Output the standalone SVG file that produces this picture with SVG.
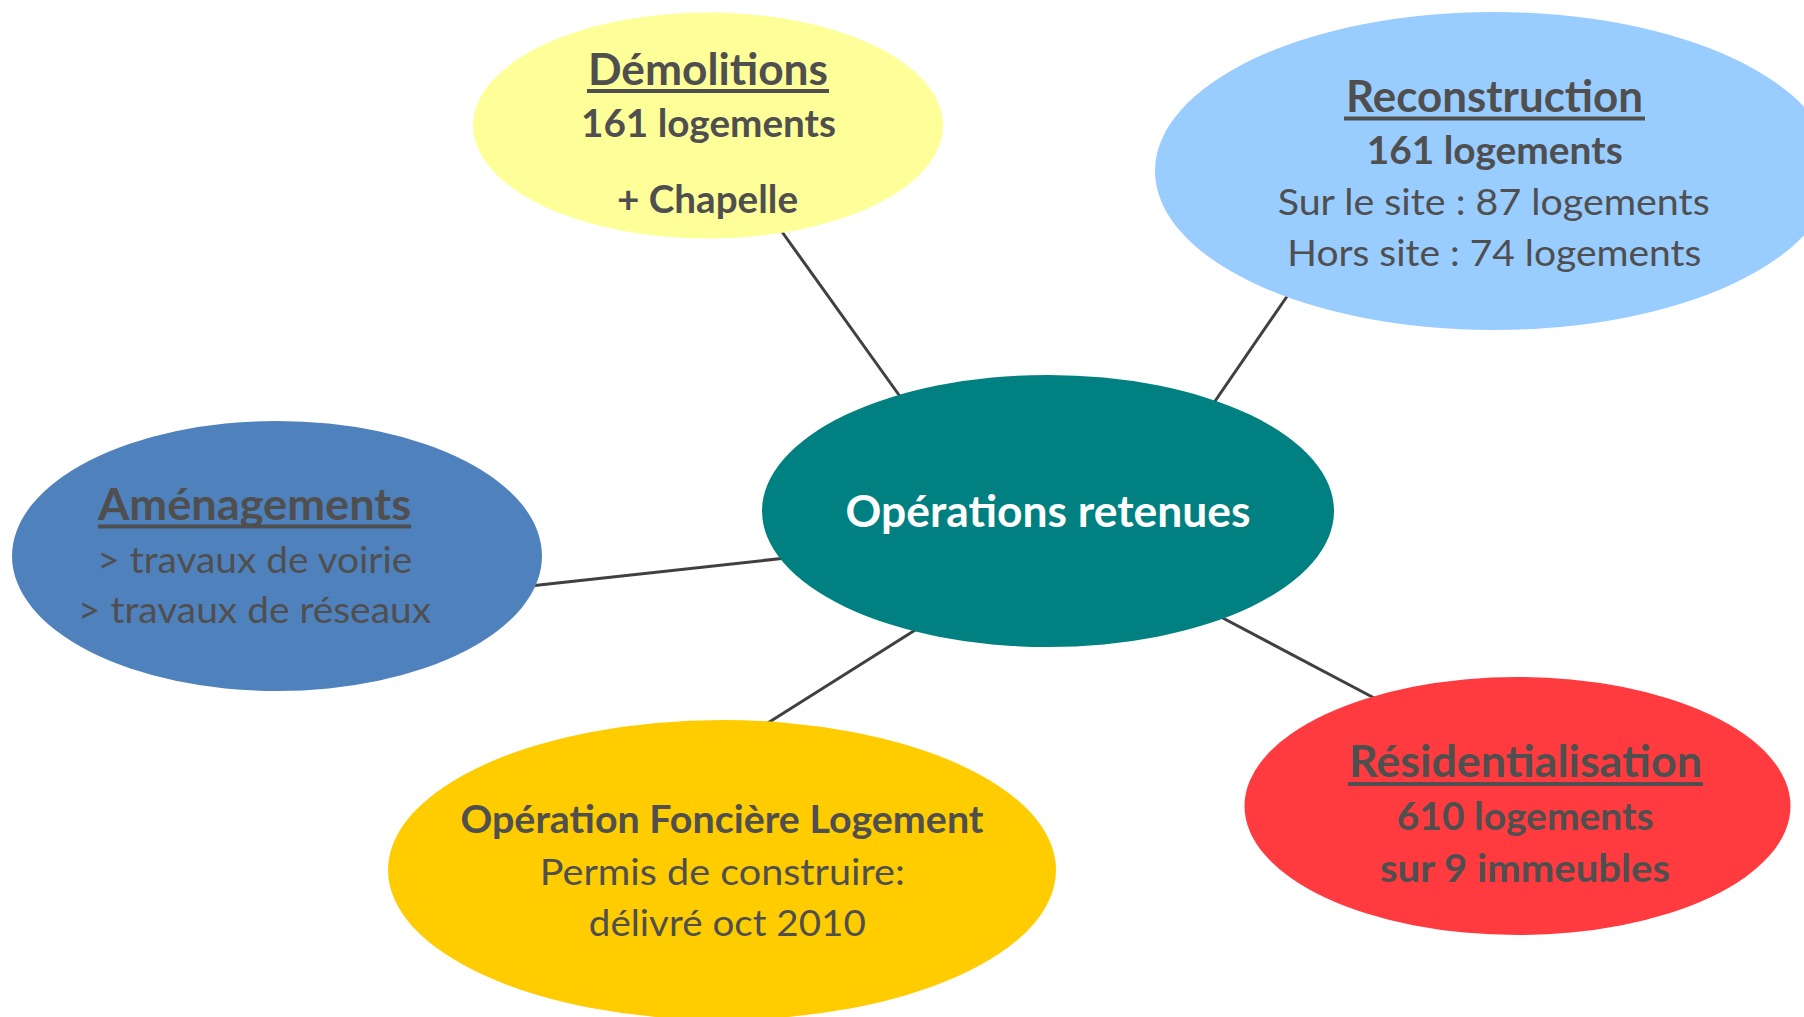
<svg xmlns="http://www.w3.org/2000/svg" width="1804" height="1017" viewBox="0 0 1804 1017">
<style>
.t{font-family:Lato,"Open Sans","Liberation Sans",sans-serif;fill:#4F4F4F;text-anchor:middle}
.h{font-size:43px;font-weight:700}
.b{font-size:37.5px;font-weight:700}
.r{font-size:37.5px;font-weight:400}
.u{stroke:#4F4F4F;stroke-width:4}
.c{stroke:#404040;stroke-width:3;fill:none}
</style>
<rect width="1804" height="1017" fill="#FFFFFF"/>
<g id="connectors">
<line class="c" x1="780" y1="229" x2="904" y2="402"/>
<line class="c" x1="1290" y1="292" x2="1211" y2="407"/>
<line class="c" x1="530" y1="586" x2="786" y2="558"/>
<line class="c" x1="763" y1="726" x2="920" y2="627"/>
<line class="c" x1="1219" y1="616" x2="1378" y2="700"/>
</g>
<g id="node-center">
<ellipse cx="1048" cy="511" rx="286" ry="136" fill="#008080"/>
<text class="t h" x="1048" y="527" fill="#FFFFFF" style="fill:#FFFFFF" textLength="405" lengthAdjust="spacingAndGlyphs">Opérations retenues</text>
</g>
<g id="node-demolitions">
<ellipse cx="708" cy="125.5" rx="235" ry="113" fill="#FFFF99"/>
<text class="t h" x="708" y="85" textLength="240" lengthAdjust="spacingAndGlyphs">Démolitions</text>
<line class="u" x1="587" y1="91" x2="829" y2="91"/>
<text class="t b" x="708.5" y="137" textLength="255" lengthAdjust="spacingAndGlyphs">161 logements</text>
<text class="t b" x="707.5" y="213" textLength="181" lengthAdjust="spacingAndGlyphs">+ Chapelle</text>
</g>
<g id="node-reconstruction">
<ellipse cx="1494" cy="171" rx="339" ry="159" fill="#99CCFF"/>
<text class="t h" x="1494.5" y="112" textLength="297" lengthAdjust="spacingAndGlyphs">Reconstruction</text>
<line class="u" x1="1344" y1="118.5" x2="1645" y2="118.5"/>
<text class="t b" x="1494.7" y="164" textLength="256" lengthAdjust="spacingAndGlyphs">161 logements</text>
<text class="t r" x="1493.7" y="215" textLength="432" lengthAdjust="spacingAndGlyphs">Sur le site : 87 logements</text>
<text class="t r" x="1494.3" y="266" textLength="414" lengthAdjust="spacingAndGlyphs">Hors site : 74 logements</text>
</g>
<g id="node-amenagements">
<ellipse cx="277" cy="556" rx="265" ry="135" fill="#4F81BD"/>
<text class="t h" x="254.5" y="520" textLength="313" lengthAdjust="spacingAndGlyphs">Aménagements</text>
<line class="u" x1="98" y1="526.5" x2="411" y2="526.5"/>
<text class="t r" x="254.8" y="573" textLength="315" lengthAdjust="spacingAndGlyphs">&gt; travaux de voirie</text>
<text class="t r" x="254.5" y="623" textLength="353" lengthAdjust="spacingAndGlyphs">&gt; travaux de réseaux</text>
</g>
<g id="node-fonciere">
<ellipse cx="722" cy="870" rx="334" ry="150" fill="#FFCC00"/>
<text class="t b" x="722" y="833" textLength="523" lengthAdjust="spacingAndGlyphs">Opération Foncière Logement</text>
<text class="t r" x="722.3" y="885" textLength="365" lengthAdjust="spacingAndGlyphs">Permis de construire:</text>
<text class="t r" x="727.3" y="936" textLength="277" lengthAdjust="spacingAndGlyphs">délivré oct 2010</text>
</g>
<g id="node-residentialisation">
<ellipse cx="1517.5" cy="806" rx="273" ry="129" fill="#FF3B3F"/>
<text class="t h" x="1525.5" y="777" textLength="353" lengthAdjust="spacingAndGlyphs">Résidentialisation</text>
<line class="u" x1="1348" y1="784" x2="1703" y2="784"/>
<text class="t b" x="1525.2" y="830" textLength="257" lengthAdjust="spacingAndGlyphs">610 logements</text>
<text class="t b" x="1525" y="882" textLength="290" lengthAdjust="spacingAndGlyphs">sur 9 immeubles</text>
</g>
</svg>
